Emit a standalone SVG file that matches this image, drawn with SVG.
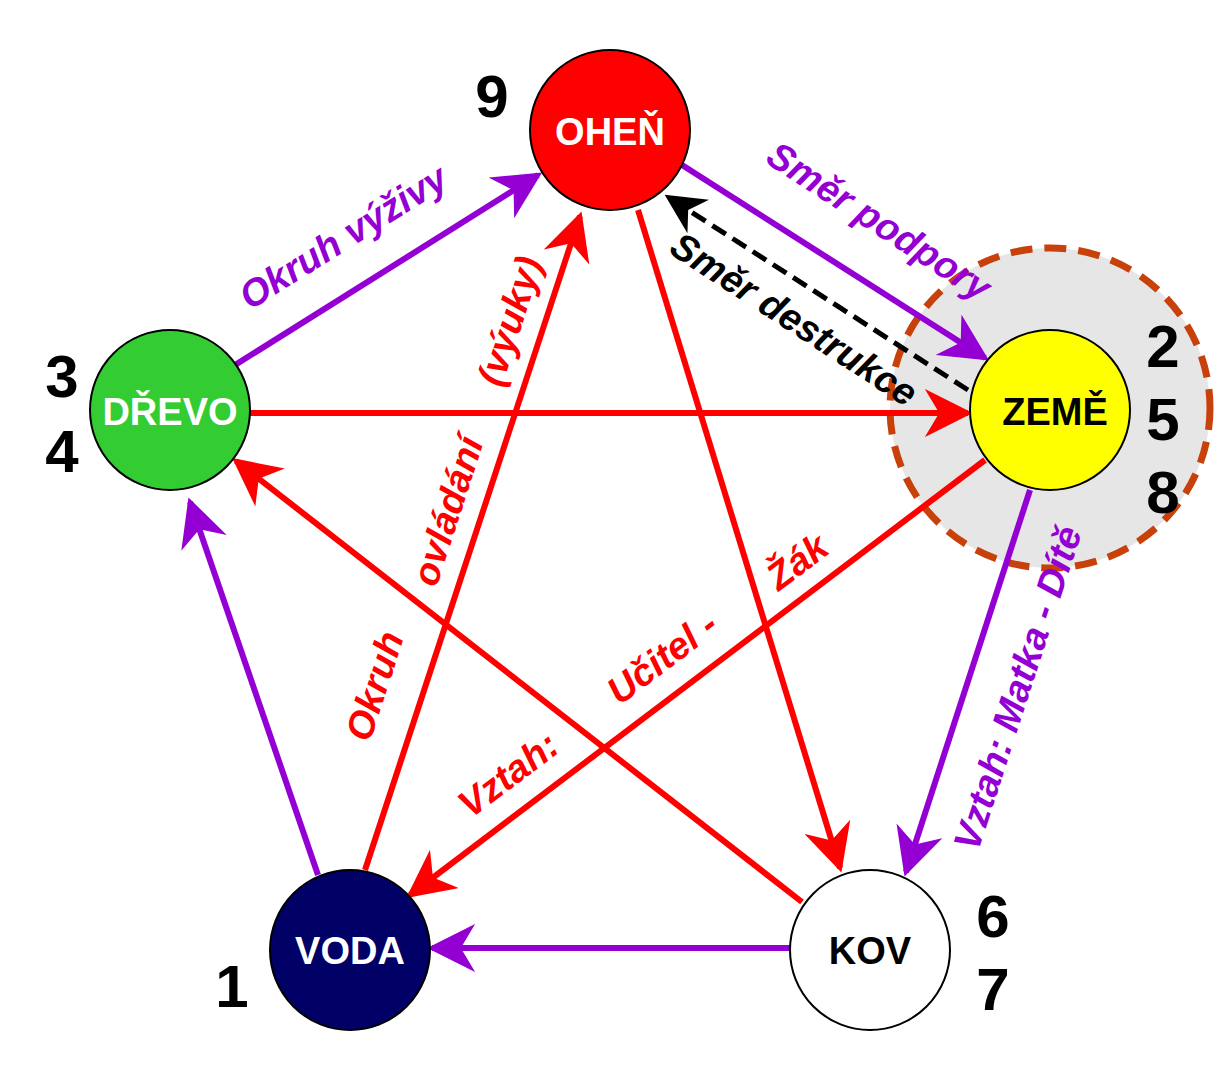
<svg xmlns="http://www.w3.org/2000/svg" width="1220" height="1080" viewBox="0 0 1220 1080">
<style>
.n{stroke:#000;stroke-width:2}
.t{font-family:"Liberation Sans",Arial,sans-serif;font-weight:bold;text-anchor:middle}
.lab{font-size:38px;fill:#fff}
.num{font-size:60px;fill:#000}
.r{stroke:#f00;stroke-width:6;fill:none;marker-end:url(#ar)}
.p{stroke:#9400d3;stroke-width:6;fill:none;marker-end:url(#ap)}
.el{font-family:"Liberation Sans",Arial,sans-serif;font-weight:bold;font-style:italic;font-size:38px;text-anchor:middle}
</style>
<defs>
<marker id="ar" viewBox="0 0 10 10" refX="9" refY="5" markerWidth="8" markerHeight="8" markerUnits="strokeWidth" orient="auto"><path d="M0,0L10,5L0,10L3,5z" fill="#f00"/></marker>
<marker id="ap" viewBox="0 0 10 10" refX="9" refY="5" markerWidth="8" markerHeight="8" markerUnits="strokeWidth" orient="auto"><path d="M0,0L10,5L0,10L3,5z" fill="#9400d3"/></marker>
<marker id="ak" viewBox="0 0 10 10" refX="9" refY="5" markerWidth="8" markerHeight="8" markerUnits="strokeWidth" orient="auto"><path d="M0,0L10,5L0,10L3,5z" fill="#000"/></marker>
</defs>
<rect width="1220" height="1080" fill="#fff"/>
<circle cx="1050" cy="408" r="160" fill="#e6e6e6" stroke="#c8400a" stroke-width="7" stroke-dasharray="22,12"/>
<g id="connectors">
<line class="p" x1="235" y1="365" x2="538" y2="175"/>
<line class="p" x1="682" y1="165" x2="985" y2="358"/>
<line x1="968" y1="390" x2="668" y2="197" stroke="#000" stroke-width="5" stroke-dasharray="16,8" marker-end="url(#ak)"/>
<line class="r" x1="250" y1="413" x2="968" y2="413"/>
<line class="r" x1="365" y1="870" x2="580" y2="216"/>
<line class="r" x1="638" y1="210" x2="840" y2="868"/>
<line class="r" x1="802" y1="902" x2="236" y2="461"/>
<line class="r" x1="985" y1="460" x2="410" y2="895"/>
<line class="p" x1="1030" y1="490" x2="906" y2="872"/>
<line class="p" x1="790" y1="948" x2="432" y2="948"/>
<line class="p" x1="318" y1="875" x2="190" y2="502"/>
</g>
<g id="labels">
<text class="el" fill="#9400d3" transform="translate(350,248) rotate(-32)">Okruh výživy</text>
<text class="el" fill="#9400d3" transform="translate(872,232) rotate(33)">Směr podpory</text>
<text class="el" fill="#000" font-size="32" transform="translate(787,330) rotate(33)">Směr destrukce</text>
<text class="el" fill="#f00" transform="translate(387,690) rotate(-72)">Okruh</text>
<text class="el" fill="#f00" transform="translate(460,515) rotate(-72)">ovládání</text>
<text class="el" fill="#f00" transform="translate(522,325) rotate(-72)">(výuky)</text>
<text class="el" fill="#f00" transform="translate(516,785) rotate(-37)">Vztah:</text>
<text class="el" fill="#f00" transform="translate(670,668) rotate(-37)">Učitel -</text>
<text class="el" fill="#f00" transform="translate(805,572) rotate(-37)">Žák</text>
<text class="el" fill="#9400d3" transform="translate(1030,692) rotate(-72)">Vztah: Matka - Dítě</text>
</g>
<g id="ohen"><circle class="n" cx="610" cy="130" r="80" fill="#f00"/><text class="t lab" x="610" y="145">OHEŇ</text></g>
<g id="drevo"><circle class="n" cx="170" cy="410" r="80" fill="#33cc33"/><text class="t lab" x="170" y="425" font-size="34">DŘEVO</text></g>
<g id="zeme"><circle class="n" cx="1050" cy="410" r="80" fill="#ff0"/><text class="t lab" x="1055" y="425" style="fill:#000">ZEMĚ</text></g>
<g id="voda"><circle class="n" cx="350" cy="950" r="80" fill="#000066"/><text class="t lab" x="350" y="964">VODA</text></g>
<g id="kov"><circle class="n" cx="870" cy="950" r="80" fill="#fff"/><text class="t lab" x="870" y="964" style="fill:#000">KOV</text></g>
<g id="numbers">
<text class="t num" x="492" y="117">9</text>
<text class="t num" x="62" y="397">3</text>
<text class="t num" x="62" y="472">4</text>
<text class="t num" x="1163" y="367">2</text>
<text class="t num" x="1163" y="440">5</text>
<text class="t num" x="1163" y="513">8</text>
<text class="t num" x="993" y="937">6</text>
<text class="t num" x="993" y="1010">7</text>
<text class="t num" x="232" y="1007">1</text>
</g>
</svg>
